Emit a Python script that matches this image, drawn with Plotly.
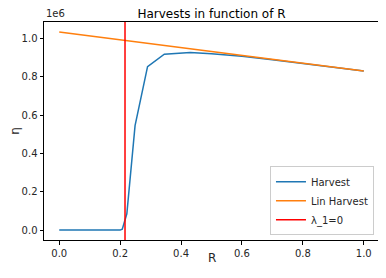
import plotly.graph_objects as go

# Data (harvest values in absolute units)
r_harvest = [0.0, 0.05, 0.10, 0.15, 0.20, 0.207, 0.222, 0.249, 0.29, 0.345, 0.43, 0.5, 0.6, 0.7, 0.8, 0.9, 1.0]
harvest = [0, 0, 0, 0, 0, 5e3, 8.5e4, 5.45e5, 8.52e5, 9.17e5, 9.26e5, 9.2e5, 9.07e5, 8.88e5, 8.68e5, 8.49e5, 8.29e5]
r_lin = [0.0, 0.25, 0.5, 0.75, 1.0]
lin_harvest = [1.033e6, 0.982e6, 0.931e6, 0.880e6, 0.829e6]
lambda_r = 0.216

x_ticks = [0.0, 0.2, 0.4, 0.6, 0.8, 1.0]
x_ticktext = ["0.0", "0.2", "0.4", "0.6", "0.8", "1.0"]
y_ticks = [0, 2e5, 4e5, 6e5, 8e5, 1e6]
y_ticktext = ["0.0", "0.2", "0.4", "0.6", "0.8", "1.0"]

y_lo, y_hi = -0.0517e6, 1.085e6

fig = go.Figure()
fig.add_trace(go.Scatter(x=r_harvest, y=harvest, mode="lines", name="Harvest",
                         line=dict(color="#1f77b4", width=1.5)))
fig.add_trace(go.Scatter(x=r_lin, y=lin_harvest, mode="lines", name="Lin Harvest",
                         line=dict(color="#ff7f0e", width=1.5)))
fig.add_trace(go.Scatter(x=[lambda_r, lambda_r], y=[y_lo, y_hi], mode="lines", name="λ_1=0",
                         line=dict(color="red", width=1.5)))

axis_common = dict(showline=True, linecolor="black", linewidth=1, mirror=True,
                   ticks="outside", ticklen=3.5, tickwidth=1, tickcolor="black",
                   showgrid=False, zeroline=False, automargin=False,
                   tickfont=dict(family="DejaVu Sans", size=10, color="#262626"))

# page body has an 8px margin, so the figure is offset by 8px
fig.update_layout(
    width=386, height=278,
    margin=dict(l=36, r=15, t=14, b=46),
    paper_bgcolor="white", plot_bgcolor="white",
    font=dict(family="DejaVu Sans", color="#262626"),
    title=dict(text="Harvests in function of R", x=0.5, xref="paper", xanchor="center",
               y=1, yref="paper", yanchor="bottom", pad=dict(b=4),
               font=dict(size=12, color="black")),
    xaxis=dict(range=[-0.05, 1.05], tickvals=x_ticks, ticktext=x_ticktext, **axis_common),
    yaxis=dict(range=[y_lo, y_hi], tickvals=y_ticks, ticktext=y_ticktext,
               title=dict(text="η", font=dict(size=12, color="#262626"), standoff=0), **axis_common),
    legend=dict(x=0.985, y=0.022, xanchor="right", yanchor="bottom",
                bgcolor="rgba(255,255,255,0.8)", bordercolor="#cccccc", borderwidth=1,
                font=dict(size=10, color="#262626"), tracegroupgap=0, itemwidth=30),
    showlegend=True,
    annotations=[
        dict(text="1e6", xref="paper", yref="paper", x=0, y=1.0,
             xanchor="left", yanchor="bottom", showarrow=False,
             font=dict(size=10, color="#262626"), yshift=1),
        dict(text="R", xref="paper", yref="paper", x=0.5, y=0,
             xanchor="center", yanchor="middle", showarrow=False, yshift=-18,
             font=dict(size=12, color="#262626")),
    ],
)

fig.write_html("out.html")
